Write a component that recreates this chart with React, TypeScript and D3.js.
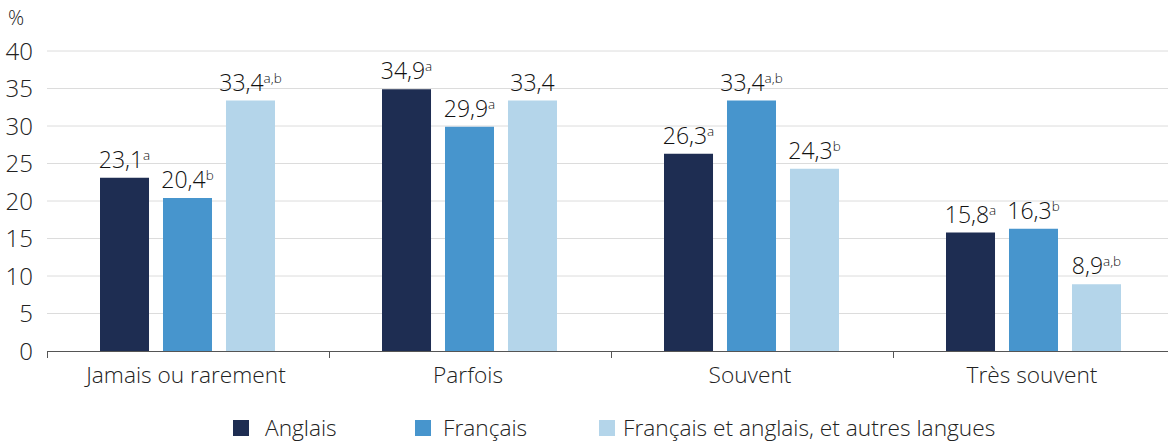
import React from 'react';
import * as d3 from 'd3';

const categories = ['Jamais ou rarement', 'Parfois', 'Souvent', 'Très souvent'];
const series = ['Anglais', 'Français', 'Français et anglais, et autres langues'];
const anglais = [23.1, 34.9, 26.3, 15.8];
const francais = [20.4, 29.9, 33.4, 16.3];
const mixte = [33.4, 33.4, 24.3, 8.9];
const supAnglais = ['a', 'a', 'a', 'a'];
const supFrancais = ['b', 'a', 'a,b', 'b'];
const supMixte = ['a,b', '', 'b', 'a,b'];
const yTicks = [0, 5, 10, 15, 20, 25, 30, 35, 40];

const colors = ['#1e2d52', '#4795cd', '#b4d5ea'];
const W = 1168;
const H = 442;
const font = '"Open Sans", "Noto Sans", sans-serif';

export default function App() {
  const values = [anglais, francais, mixte];
  const sups = [supAnglais, supFrancais, supMixte];

  const x = d3.scaleBand().domain(categories).range([48, 1176]).padding(0);
  const inner = d3.scaleBand<number>()
    .domain([0, 1, 2])
    .range([52, 227])
    .paddingInner(0.222)
    .paddingOuter(0);
  const y = d3.scaleLinear().domain([0, 40]).range([351, 51]);
  const fmt = (v: number) => d3.format('.1f')(v).replace('.', ',');

  const legendX = [233, 415, 599];

  return (
    <svg width={W} height={H} style={{ position: 'absolute', left: 0, top: 0, fontFamily: font, fontWeight: 300 }}>
      {/* grid */}
      {yTicks.filter(t => t > 0).map(t => (
        <line key={t} x1={47} x2={W} y1={y(t)} y2={y(t)} stroke="#dcdcdc" strokeWidth={1} />
      ))}
      {yTicks.map(t => (
        <text key={'l' + t} x={33} y={y(t)} dy="0.36em" textAnchor="end" fontSize={24} fill="#222">{t}</text>
      ))}
      <text x={8} y={18} dy="0.36em" fontSize={20} fill="#222">%</text>

      {/* bars */}
      {categories.map((c, i) => (
        <g key={c} transform={`translate(${x(c)},0)`}>
          {values.map((vals, s) => {
            const bx = inner(s)!;
            const v = vals[i];
            return (
              <g key={s}>
                <rect x={bx} y={y(v)} width={inner.bandwidth()} height={y(0) - y(v)} fill={colors[s]} />
                <text x={bx + inner.bandwidth() / 2} y={y(v) - 10} textAnchor="middle" fontSize={23} fill="#111">
                  {fmt(v)}
                  {sups[s][i] && <tspan fontSize={13.5} dy={-8}>{sups[s][i]}</tspan>}
                </text>
              </g>
            );
          })}
        </g>
      ))}

      {/* x axis */}
      <line x1={47} x2={W} y1={351.5} y2={351.5} stroke="#555" strokeWidth={1.2} />
      {categories.map(c => (
        <line key={'t' + c} x1={x(c)! - 0.5} x2={x(c)! - 0.5} y1={351} y2={358} stroke="#555" />
      ))}
      {categories.map(c => (
        <text key={'c' + c} x={x(c)! + x.bandwidth() / 2 - 3} y={375} dy="0.36em" textAnchor="middle" fontSize={22.7} fill="#222">{c}</text>
      ))}

      {/* legend */}
      {series.map((s, i) => (
        <g key={s} transform={`translate(${legendX[i]},428)`}>
          <rect x={0} y={-8} width={16} height={16} fill={colors[i]} />
          <text x={i === 0 ? 32 : i === 1 ? 28 : 24} y={0} dy="0.36em" fontSize={22.7} fill="#222">{s}</text>
        </g>
      ))}
    </svg>
  );
}
